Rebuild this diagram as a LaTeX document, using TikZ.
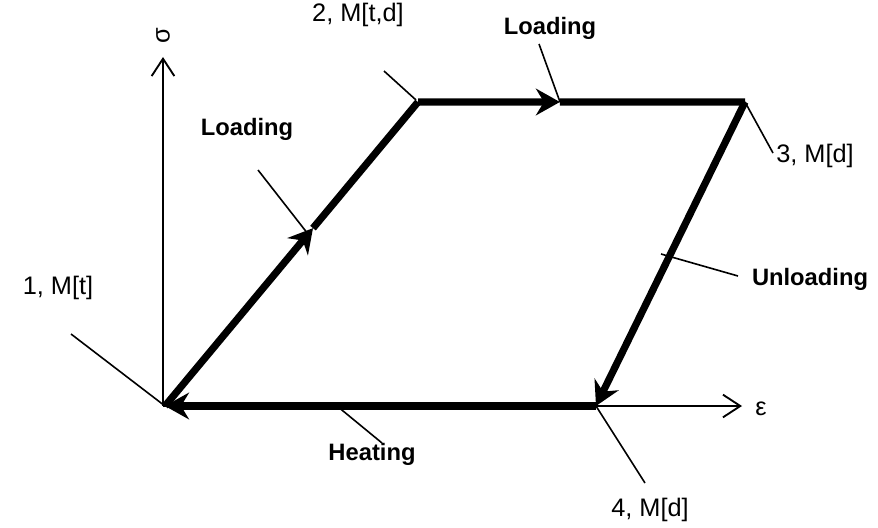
\documentclass[tikz,border=0pt]{standalone}
\usepackage{fontspec}
\setmainfont{Liberation Sans}
\usetikzlibrary{arrows.meta,calc}
\begin{document}
\begin{tikzpicture}[x=0.75pt,y=-0.75pt,
  thickpath/.style={line width=5.4pt},
  flowtip/.style={-{Stealth[length=18pt,width=20pt,inset=6pt]}},
  axisline/.style={line width=1.4pt,-{Straight Barb[length=13pt,width=17pt,line width=1.4pt]}},
  leader/.style={line width=1.2pt},
  lbl/.style={font=\fontsize{19}{22}\selectfont, inner sep=0pt, anchor=base},
  blbl/.style={font=\fontsize{17.8}{21}\selectfont\bfseries, inner sep=0pt, anchor=base}]
\useasboundingbox (0,0) rectangle (878,528);
% key points
\coordinate (p1) at (165,406);
\coordinate (p2) at (418,102);
\coordinate (p3) at (745,102);
\coordinate (p4) at (596,406);
\coordinate (m12) at ($(p1)!0.585!(p2)$);
\coordinate (m23) at ($(p2)!0.434!(p3)$);
% axes
\coordinate (o) at (163,406);
\coordinate (yend) at (163,57);
\coordinate (xend) at (742,406);
\draw[axisline] (o) -- (yend);
\draw[axisline] (o) -- (xend);
\node[font=\fontsize{19}{22}\selectfont, rotate=90] (sig) at (163,36) {σ};
\node[font=\fontsize{19}{22}\selectfont] (eps) at (761,409) {ε};
% cycle
\draw[thickpath,flowtip] (p1) -- (m12);
\draw[thickpath] (m12) -- (p2);
\draw[thickpath,flowtip] (p2) -- (m23);
\draw[thickpath] (m23) -- (p3);
\draw[thickpath,flowtip] (p3) -- (p4);
\draw[thickpath,flowtip] (p4) -- (p1);
% labels
\node[lbl] (l1) at (58,294) {1, M[t]};
\node[lbl] (l2) at (358,22) {2, M[t,d]};
\node[lbl] (l3) at (815,162) {3, M[d]};
\node[lbl] (l4) at (650,516) {4, M[d]};
\node[blbl] (ld1) at (247,135) {Loading};
\node[blbl] (ld2) at (550,35) {Loading};
\node[blbl] (ul) at (810,285) {Unloading};
\node[blbl] (ht) at (372,460) {Heating};
% leader lines
\coordinate (c1) at (71,334);
\coordinate (c2) at (384,71);
\coordinate (c2b) at (416,100);
\coordinate (c3) at (773,153);
\coordinate (c4) at (645,483);
\coordinate (cl1a) at (258,170);
\coordinate (cl1b) at (308,234);
\coordinate (cl2a) at (539,44);
\coordinate (cl2b) at (560,102);
\coordinate (cua) at (661,254);
\coordinate (cub) at (738,276);
\coordinate (cha) at (337,406);
\coordinate (chb) at (382,443);
\draw[leader] (c1) -- (p1);
\draw[leader] (c2) -- (c2b);
\draw[leader] (p3) -- (c3);
\draw[leader] (p4) -- (c4);
\draw[leader] (cl1a) -- (cl1b);
\draw[leader] (cl2a) -- (cl2b);
\draw[leader] (cua) -- (cub);
\draw[leader] (cha) -- (chb);
\end{tikzpicture}
\end{document}
